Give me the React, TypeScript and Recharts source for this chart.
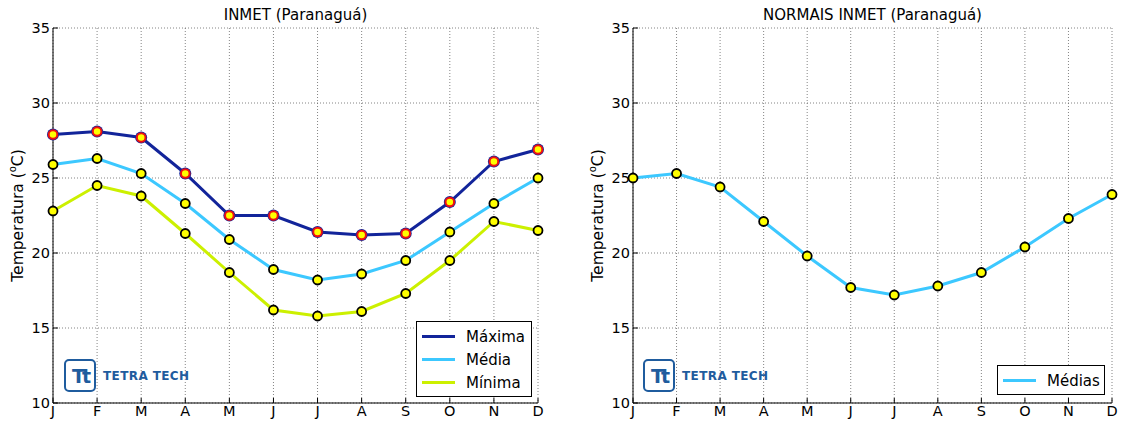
import React from 'react';
import { LineChart, Line, XAxis, YAxis, CartesianGrid } from 'recharts';

// meses
const months = ['J', 'F', 'M', 'A', 'M', 'J', 'J', 'A', 'S', 'O', 'N', 'D'];
const yTicks = [10, 15, 20, 25, 30, 35];

// INMET (Paranaguá)
const maxima = [27.9, 28.1, 27.7, 25.3, 22.5, 22.5, 21.4, 21.2, 21.3, 23.4, 26.1, 26.9];
const media = [25.9, 26.3, 25.3, 23.3, 20.9, 18.9, 18.2, 18.6, 19.5, 21.4, 23.3, 25.0];
const minima = [22.8, 24.5, 23.8, 21.3, 18.7, 16.2, 15.8, 16.1, 17.3, 19.5, 22.1, 21.5];

// NORMAIS INMET (Paranaguá)
const normais = [25.0, 25.3, 24.4, 22.1, 19.8, 17.7, 17.2, 17.8, 18.7, 20.4, 22.3, 23.9];

const FONT = '"DejaVu Sans", sans-serif';
const C_MAX = '#12249a';
const C_MED = '#3cc8ff';
const C_MIN = '#ccf000';

const inmetData = months.map((m, i) => ({ i, max: maxima[i], med: media[i], min: minima[i] }));
const normaisData = months.map((m, i) => ({ i, med: normais[i] }));

const monthTicks = months.map((_, i) => i);

function YLabel({ viewBox }: any) {
  const cx = viewBox.x + 18;
  const cy = viewBox.y + viewBox.height / 2;
  return (
    <text x={cx} y={cy} transform={`rotate(-90 ${cx} ${cy})`} textAnchor="middle" dominantBaseline="central"
      fontSize={15.5} fill="#000" fontFamily={FONT}>
      Temperatura (<tspan fontSize={10} dy={-6}>o</tspan><tspan dy={6}>C)</tspan>
    </text>
  );
}

// marcador da máxima: borda azul, anel vermelho, miolo amarelo
function MaxDot(props: any) {
  const { cx, cy } = props;
  if (cx == null || cy == null) return null;
  return (
    <g>
      <circle cx={cx} cy={cy} r={6} fill={C_MAX} />
      <circle cx={cx} cy={cy} r={4.3} fill="#ffff00" stroke="#ee1111" strokeWidth={2} />
    </g>
  );
}

function Logo({ left, top }: { left: number; top: number }) {
  return (
    <div style={{ position: 'absolute', left, top, display: 'flex', alignItems: 'center' }}>
      <div style={{
        width: 28, height: 29, border: '2.5px solid #1f5c9e', borderRadius: 5, display: 'flex',
        alignItems: 'center', justifyContent: 'center', color: '#1f5c9e', fontWeight: 'bold',
        fontFamily: FONT, fontSize: 19, letterSpacing: -3, background: '#fff'
      }}>Tt</div>
      <div style={{ marginLeft: 7, color: '#1f5c9e', fontFamily: FONT, fontWeight: 'bold', fontSize: 12, letterSpacing: 0.4 }}>
        TETRA TECH
      </div>
    </div>
  );
}

function LegendBox({ left, top, width, items }: { left: number; top: number; width: number; items: { name: string; color: string }[] }) {
  return (
    <div style={{
      position: 'absolute', left, top, width, border: '1px solid #000', background: '#fff',
      padding: '3px 0 2px 0', fontFamily: FONT, fontSize: 15
    }}>
      {items.map((it) => (
        <div key={it.name} style={{ display: 'flex', alignItems: 'center', height: 23 }}>
          <div style={{ width: 33, height: 3, background: it.color, marginLeft: 5, marginRight: 11 }} />
          <span>{it.name}</span>
        </div>
      ))}
    </div>
  );
}

function commonAxes() {
  return [
    <CartesianGrid key="g" stroke="#666" strokeDasharray="1 2" strokeWidth={0.8} />,
    <XAxis key="xb" dataKey="i" type="number" domain={[0, 11]} ticks={monthTicks} interval={0}
      tickFormatter={(v: number) => months[v]} tickSize={-5} tickMargin={8} height={21}
      stroke="#000" tick={{ fill: '#000', fontSize: 14.5, fontFamily: FONT }} />,
    <XAxis key="xt" xAxisId="top" orientation="top" type="number" domain={[0, 11]} ticks={monthTicks}
      interval={0} tick={false} tickSize={-5} height={0} stroke="#000" allowDataOverflow />,
    <YAxis key="yl" type="number" domain={[10, 35]} ticks={yTicks} interval={0} tickSize={-5} tickMargin={8}
      width={53} stroke="#000" tick={{ fill: '#000', fontSize: 14.5, fontFamily: FONT }} label={<YLabel />} />,
    <YAxis key="yr" yAxisId="right" orientation="right" type="number" domain={[10, 35]} ticks={yTicks}
      interval={0} tick={false} tickSize={-5} width={0} stroke="#000" allowDataOverflow />,
  ];
}

const yDot = { r: 4.5, fill: '#ffff00', stroke: '#000', strokeWidth: 1.8 };

export default function App() {
  return (
    <div style={{ position: 'absolute', left: 0, top: 0, width: 1122, height: 424, background: '#fff', fontFamily: FONT }}>
      <div style={{ position: 'absolute', left: 53, width: 485, top: 6, textAlign: 'center', fontSize: 15 }}>
        INMET (Paranaguá)
      </div>
      <div style={{ position: 'absolute', left: 633, width: 479, top: 6, textAlign: 'center', fontSize: 15 }}>
        NORMAIS INMET (Paranaguá)
      </div>

      <div style={{ position: 'absolute', left: 0, top: 0 }}>
        <LineChart width={560} height={424} data={inmetData} margin={{ top: 28, right: 22, bottom: 0, left: 0 }}>
          {commonAxes()}
          <Line dataKey="max" name="Máxima" stroke={C_MAX} strokeWidth={3} dot={<MaxDot />} isAnimationActive={false} />
          <Line dataKey="med" name="Média" stroke={C_MED} strokeWidth={3} dot={yDot} isAnimationActive={false} />
          <Line dataKey="min" name="Mínima" stroke={C_MIN} strokeWidth={3} dot={yDot} isAnimationActive={false} />
        </LineChart>
      </div>

      <div style={{ position: 'absolute', left: 580, top: 0 }}>
        <LineChart width={542} height={424} data={normaisData} margin={{ top: 28, right: 10, bottom: 0, left: 0 }}>
          {commonAxes()}
          <Line dataKey="med" name="Médias" stroke={C_MED} strokeWidth={3} dot={yDot} isAnimationActive={false} />
        </LineChart>
      </div>

      <LegendBox left={416} top={321} width={114} items={[
        { name: 'Máxima', color: C_MAX }, { name: 'Média', color: C_MED }, { name: 'Mínima', color: C_MIN }]} />
      <LegendBox left={997} top={365} width={106} items={[{ name: 'Médias', color: C_MED }]} />

      <Logo left={64} top={359} />
      <Logo left={643} top={359} />
    </div>
  );
}
